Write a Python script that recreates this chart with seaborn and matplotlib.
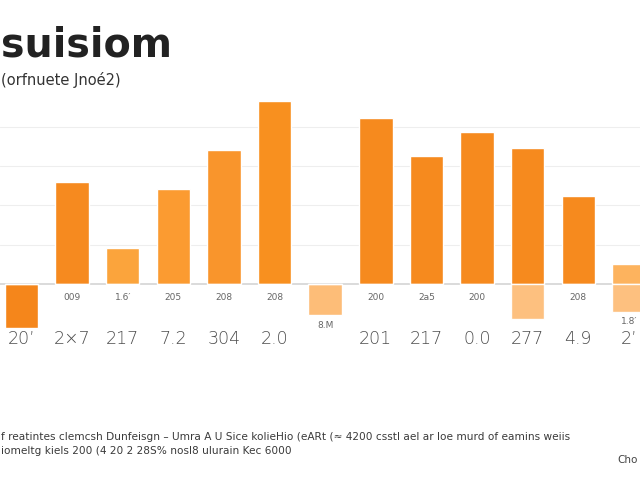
import matplotlib
matplotlib.use('Agg')
import matplotlib.pyplot as plt
import pandas as pd
import seaborn as sns

# chart data
periods = ['p01', 'p02', 'p03', 'p04', 'p05', 'p06', 'p07',
           'p08', 'p09', 'p10', 'p11', 'p12', 'p13']
values = [-11.2, 26.0, 9.1, 24.3, 34.1, 46.6, -7.9,
          42.3, 32.5, 38.7, 34.6, 22.3, 5.1]
adjust = [0, 0, 0, 0, 0, 0, 0, 0, 0, 0, -8.9, 0, -7.1]
value_labels = ['', '009', '1.6\u2032', '205', '208', '208', '8.M',
                '200', '2a5', '200', '', '208', '1.8\u2032']
tick_labels = ['20\u2019', '2\u00d77', '217', '7.2', '304', '2.0', '',
               '201', '217', '0.0', '277', '4.9', '2\u2019']

title = 'suisiom'
subtitle = '(orfnuete Jnoé2)'
note1 = ('f reatintes clemcsh Dunfeisgn \u2013 Umra A U Sice kolieHio '
         '(eARt (\u2248 4200 csstl ael ar loe murd of eamins weiis')
note2 = 'iomeltg kiels 200 (4 20 2 28S% nosl8 ulurain Kec 6000'

sns.set_theme(style='white')
plt.rcParams['font.family'] = ['DejaVu Sans']

df = pd.DataFrame({'period': periods, 'value': values, 'adjust': adjust})

light = '#fdbd78'
bar_colors = ['#f5861b', '#f68a1f', '#fba43c', '#fb9b31', '#f9952c',
              '#f8901f', light, '#f68a1e', '#f68a1e', '#f68a1e',
              '#f68a1e', '#f68a1e', '#fdb35e']

fig = plt.figure(figsize=(6.4, 4.8), dpi=100)
ax = fig.add_axes([0, 0, 1, 1])

for y in [10, 20, 30, 40]:
    ax.axhline(y, color='#eeeeee', lw=0.8, zorder=0)

sns.barplot(data=df, x='period', y='value', hue='period',
            palette=bar_colors, legend=False, width=0.66,
            saturation=1, ax=ax, zorder=2)
sns.barplot(data=df, x='period', y='adjust', color=light,
            width=0.66, saturation=1, ax=ax, zorder=3, alpha=0.95)

ax.axhline(0, color='#d4d4d4', lw=1.2, zorder=1)

# value labels sit under the zero line, or under the lowest bar end
for i, (v, a, lab) in enumerate(zip(values, adjust, value_labels)):
    if not lab:
        continue
    low = min(v, a, 0)
    ypos = -3.4 if low == 0 else low - 2.6
    ax.text(i, ypos, lab, ha='center', va='center', fontsize=6.5,
            color='#666666')

for i, lab in enumerate(tick_labels):
    ax.text(i, -14.0, lab, ha='center', va='center', fontsize=12.5,
            color='#4d4d4d', fontweight='light')

ax.set_xlim(-0.425, 12.22)
ax.set_ylim(-50, 72.4)
ax.set_xticks([])
ax.set_yticks([])
ax.set_xlabel('')
ax.set_ylabel('')
sns.despine(ax=ax, left=True, bottom=True)

fig.text(0.002, 0.905, title, fontsize=28.5, fontweight='bold',
         color='#222222', va='center', ha='left')
fig.text(0.002, 0.833, subtitle, fontsize=10.5, color='#333333',
         va='center', ha='left')
fig.text(0.002, 0.089, note1, fontsize=7.6, color='#3a3a3a',
         va='center', ha='left')
fig.text(0.002, 0.060, note2, fontsize=7.6, color='#3a3a3a',
         va='center', ha='left')
fig.text(0.997, 0.041, 'Cho', fontsize=7.5, color='#444444',
         va='center', ha='right')

fig.savefig('out.png', dpi=100, facecolor='white')
